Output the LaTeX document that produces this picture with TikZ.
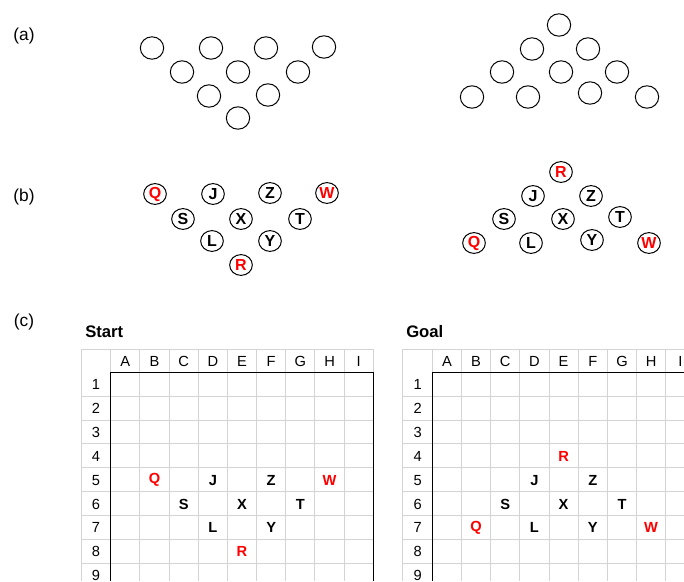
\documentclass[tikz,border=0pt]{standalone}
\usepackage{fontspec}
\setmainfont{Liberation Sans}
\usetikzlibrary{shapes.geometric}
\definecolor{gridgray}{RGB}{212,212,212}
\begin{document}
\begin{tikzpicture}[x=0.75pt,y=-0.75pt,
  lbl/.style={font=\fontsize{13}{15}\selectfont, inner sep=0},
  ring/.style={draw, ellipse, line width=0.75pt, minimum width=17.5pt, minimum height=16.8pt, inner sep=0},
  ringb/.style={draw, ellipse, line width=0.75pt, minimum width=17pt, minimum height=15.6pt, inner sep=0, font=\fontsize{12}{13}\selectfont\bfseries},
  hdr/.style={font=\fontsize{11}{13}\selectfont, inner sep=0},
  cell/.style={font=\fontsize{11}{13}\selectfont\bfseries, inner sep=0},
  sheettitle/.style={font=\fontsize{12.5}{14}\selectfont\bfseries, inner sep=0, anchor=west},
  gridline/.style={draw=gridgray, line width=0.75pt},
  border/.style={draw=black, line width=1.1pt}]
\useasboundingbox (0,0) rectangle (684,581);
\clip (0,0) rectangle (684,581);
\fill[white] (0,0) rectangle (684,581);
% panel labels
\node[lbl] (la) at (24,36) {(a)};
\node[lbl] (lb) at (24,197) {(b)};
\node[lbl] (lc) at (24,322) {(c)};
% (a) left
\node[ring] (a1) at (152,48) {};
\node[ring] (a2) at (211,48) {};
\node[ring] (a3) at (266,48) {};
\node[ring] (a4) at (324,47) {};
\node[ring] (a5) at (182,72) {};
\node[ring] (a6) at (238,72) {};
\node[ring] (a7) at (298,72) {};
\node[ring] (a8) at (209,96) {};
\node[ring] (a9) at (268,95) {};
\node[ring] (a10) at (238,118) {};
% (a) right
\node[ring] (b1) at (559,25) {};
\node[ring] (b2) at (532,49) {};
\node[ring] (b3) at (588,49) {};
\node[ring] (b4) at (502,72) {};
\node[ring] (b5) at (561,72) {};
\node[ring] (b6) at (617,72) {};
\node[ring] (b7) at (472,97) {};
\node[ring] (b8) at (528,97) {};
\node[ring] (b9) at (590,93) {};
\node[ring] (b10) at (647,97) {};
% (b) left
\node[ringb,text=red] (cQ) at (155,194) {Q};
\node[ringb] (cJ) at (213,194) {J};
\node[ringb] (cZ) at (270,193) {Z};
\node[ringb,text=red] (cW) at (327,193) {W};
\node[ringb] (cS) at (183,219) {S};
\node[ringb] (cX) at (241,219) {X};
\node[ringb] (cT) at (300,219) {T};
\node[ringb] (cL) at (212,241) {L};
\node[ringb] (cY) at (270,241) {Y};
\node[ringb,text=red] (cR) at (241,265) {R};
% (b) right
\node[ringb,text=red] (dR) at (561,172) {R};
\node[ringb] (dJ) at (533,196) {J};
\node[ringb] (dZ) at (591,196) {Z};
\node[ringb] (dS) at (504,219) {S};
\node[ringb] (dX) at (563,219) {X};
\node[ringb] (dT) at (620,217) {T};
\node[ringb,text=red] (dQ) at (474,243) {Q};
\node[ringb] (dL) at (531,243) {L};
\node[ringb] (dY) at (592,240) {Y};
\node[ringb,text=red] (dW) at (649,243) {W};
% (c) sheet titles
\node[sheettitle] (start) at (85,332) {Start};
\node[sheettitle] (goal) at (406,332) {Goal};
% sheets
\foreach \ox/\nm in {0/s,321.6/g}{
  \draw[gridline] (\ox+81,349.3) -- (\ox+81,581);
  \foreach \i in {0,...,9}
    \draw[gridline] (\ox+110.7+\i*29.18,349.3) -- (\ox+110.7+\i*29.18,581);
  \draw[gridline] (\ox+81,349.3) -- (\ox+373.3,349.3);
  \foreach \j in {1,...,8}
    \draw[gridline] (\ox+81,372.3+\j*23.875) -- (\ox+373.3,372.3+\j*23.875);
  \draw[border] (\ox+110.7,581) -- (\ox+110.7,372.3) -- (\ox+373.3,372.3) -- (\ox+373.3,581);
  \foreach \c [count=\i from 0] in {A,B,C,D,E,F,G,H,I}
    \node[hdr] (\nm h\c) at (\ox+110.7+\i*29.18+14.59,361) {\c};
  \foreach \r in {1,...,9}
    \node[hdr] (\nm r\r) at (\ox+96,372.3+\r*23.875-11.6) {\r};
}
% start contents
\foreach \t/\c/\r/\col in {Q/1/5/red,J/3/5/black,Z/5/5/black,W/7/5/red,S/2/6/black,X/4/6/black,T/6/6/black,L/3/7/black,Y/5/7/black,R/4/8/red}
  \node[cell,text=\col] (s\t) at (110.7+\c*29.18+14.59,372.3+\r*23.875-11.6) {\t};
% goal contents
\foreach \t/\c/\r/\col in {R/4/4/red,J/3/5/black,Z/5/5/black,S/2/6/black,X/4/6/black,T/6/6/black,Q/1/7/red,L/3/7/black,Y/5/7/black,W/7/7/red}
  \node[cell,text=\col] (g\t) at (432.3+\c*29.18+14.59,372.3+\r*23.875-11.6) {\t};
\end{tikzpicture}
\end{document}
